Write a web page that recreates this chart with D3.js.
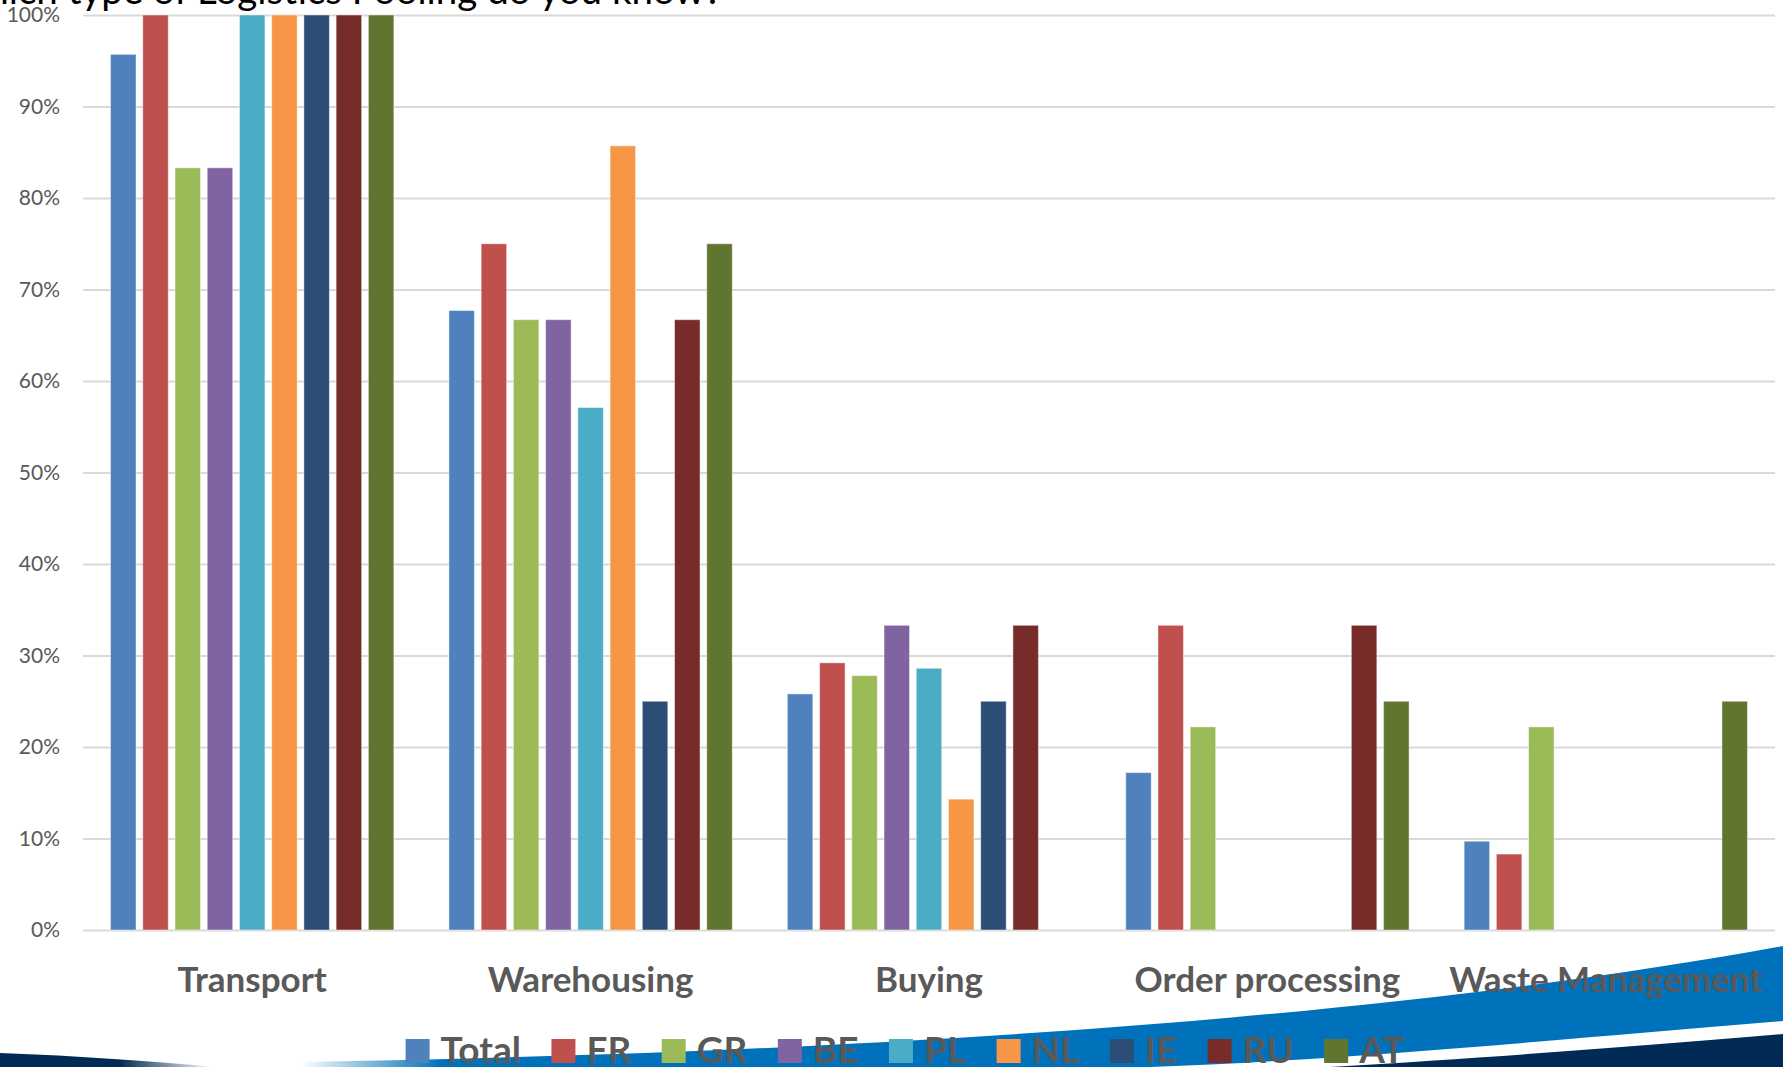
<!DOCTYPE html>
<html>
<head>
<meta charset="utf-8">
<script src="https://cdn.jsdelivr.net/npm/d3@7"></script>
<style>
  html, body { margin: 0; padding: 0; background: #fff; overflow: hidden; }
  svg { display: block; }
</style>
</head>
<body>
<svg id="chart" width="1783" height="1067"></svg>
<script>
// Logistics pooling types known, by country (% of respondents)
const categories = ["Transport", "Warehousing", "Buying", "Order processing", "Waste Management"];
const seriesNames = ["Total", "FR", "GR", "BE", "PL", "NL", "IE", "RU", "AT"];
const seriesColors = ["#4F81BD", "#C0504D", "#9BBB59", "#8064A2", "#4BACC6", "#F79646", "#2C4D75", "#772C2A", "#5F7530"];

const totalValues = [95.7, 67.7, 25.8, 17.2, 9.7];
const frValues    = [100, 75.0, 29.2, 33.3, 8.3];
const grValues    = [83.3, 66.7, 27.8, 22.2, 22.2];
const beValues    = [83.3, 66.7, 33.3, 0, 0];
const plValues    = [100, 57.1, 28.6, 0, 0];
const nlValues    = [100, 85.7, 14.3, 0, 0];
const ieValues    = [100, 25.0, 25.0, 0, 0];
const ruValues    = [100, 66.7, 33.3, 33.3, 0];
const atValues    = [100, 75.0, 0, 25.0, 25.0];

const yTicks = [0, 10, 20, 30, 40, 50, 60, 70, 80, 90, 100];
const titleText = "Which type of Logistics Pooling do you know?";

const seriesValues = [totalValues, frValues, grValues, beValues, plValues, nlValues, ieValues, ruValues, atValues];

const svg = d3.select("#chart");
const plot = { left: 83, right: 1775, top: 15, bottom: 930 };

const x0 = d3.scaleBand().domain(categories).range([plot.left, plot.right]).paddingInner(0).paddingOuter(0);
const x1 = d3.scaleBand().domain(seriesNames).range([0, x0.bandwidth()])
  .paddingInner(0.209).paddingOuter(0.8545);
const y = d3.scaleLinear().domain([0, 100]).range([plot.bottom, plot.top]);

// Heading line (runs off the top/left of the page)
svg.append("text")
  .attr("x", 722).attr("y", 4)
  .attr("text-anchor", "end")
  .attr("font-family", "Lato, 'Open Sans', sans-serif")
  .attr("font-size", 38.5)
  .attr("fill", "#000")
  .text(titleText);

// Gridlines and y labels
const yAxis = d3.axisLeft(y)
  .tickValues(yTicks)
  .tickSize(-(plot.right - plot.left))
  .tickPadding(23)
  .tickFormat(d => d + "%");

const gy = svg.append("g").attr("transform", `translate(${plot.left},0)`).call(yAxis);
gy.select(".domain").remove();
gy.selectAll(".tick line").attr("stroke", "#D9D9D9").attr("stroke-width", 2);
gy.selectAll(".tick text")
  .attr("font-family", "Lato, 'Open Sans', sans-serif")
  .attr("font-size", 21)
  .attr("fill", "#595959");

// Bottom decorative swooshes
const defs = svg.append("defs");
const gBlue = defs.append("linearGradient").attr("id", "blueTip")
  .attr("gradientUnits", "userSpaceOnUse").attr("x1", 300).attr("x2", 440).attr("y1", 0).attr("y2", 0);
gBlue.append("stop").attr("offset", 0).attr("stop-color", "#0072BC").attr("stop-opacity", 0);
gBlue.append("stop").attr("offset", 1).attr("stop-color", "#0072BC").attr("stop-opacity", 1);
const gNavy = defs.append("linearGradient").attr("id", "navyTip")
  .attr("gradientUnits", "userSpaceOnUse").attr("x1", 120).attr("x2", 215).attr("y1", 0).attr("y2", 0);
gNavy.append("stop").attr("offset", 0).attr("stop-color", "#012B55").attr("stop-opacity", 1);
gNavy.append("stop").attr("offset", 1).attr("stop-color", "#012B55").attr("stop-opacity", 0);

const deco = svg.append("g");
deco.append("path")
  .attr("d", "M0,1053 C80,1056 150,1061 215,1067 L0,1067 Z")
  .attr("fill", "url(#navyTip)");
deco.append("path")
  .attr("d", "M300,1062 C900,1052 1400,1016 1783,946 L1783,1021 C1550,1040 1350,1060 1150,1067 L300,1067 Z")
  .attr("fill", "url(#blueTip)");
deco.append("path")
  .attr("d", "M1783,1034 C1650,1045 1500,1057 1330,1067 L1783,1067 Z")
  .attr("fill", "#012B55");

// Bars
const groups = svg.append("g").selectAll("g")
  .data(categories)
  .join("g")
  .attr("transform", d => `translate(${x0(d)},0)`);

groups.selectAll("rect")
  .data((c, ci) => seriesNames.map((s, si) => ({ s, si, v: seriesValues[si][ci] })).filter(d => d.v > 0))
  .join("rect")
  .attr("x", d => x1(d.s))
  .attr("width", x1.bandwidth())
  .attr("y", d => y(d.v))
  .attr("height", d => y(0) - y(d.v))
  .attr("fill", d => seriesColors[d.si])
  .attr("stroke", "rgba(255,255,255,0.45)")
  .attr("stroke-width", 1);

// Category labels
svg.append("g").selectAll("text")
  .data(categories)
  .join("text")
  .attr("x", d => x0(d) + x0.bandwidth() / 2)
  .attr("y", 992)
  .attr("text-anchor", "middle")
  .attr("font-family", "Lato, 'Open Sans', sans-serif")
  .attr("font-weight", "bold")
  .attr("font-size", 35)
  .attr("fill", "#595959")
  .text(d => d);

// Legend
const legend = svg.append("g");
const sw = 24, gapText = 11, gapItem = 30.5;
const items = legend.selectAll("g")
  .data(seriesNames)
  .join("g");
items.append("rect")
  .attr("y", 1039).attr("width", sw).attr("height", sw)
  .attr("fill", (d, i) => seriesColors[i]);
items.append("text")
  .attr("x", sw + gapText).attr("y", 1063)
  .attr("font-family", "Lato, 'Open Sans', sans-serif")
  .attr("font-weight", "bold")
  .attr("font-size", 37)
  .attr("fill", "#595959")
  .text(d => d);
let cx = 0;
const offsets = [];
items.each(function () {
  const tw = d3.select(this).select("text").node().getComputedTextLength();
  offsets.push(cx);
  cx += sw + gapText + tw + gapItem;
});
const totalW = cx - gapItem;
const startX = 905 - totalW / 2;
items.attr("transform", (d, i) => `translate(${startX + offsets[i]},0)`);
</script>
</body>
</html>
